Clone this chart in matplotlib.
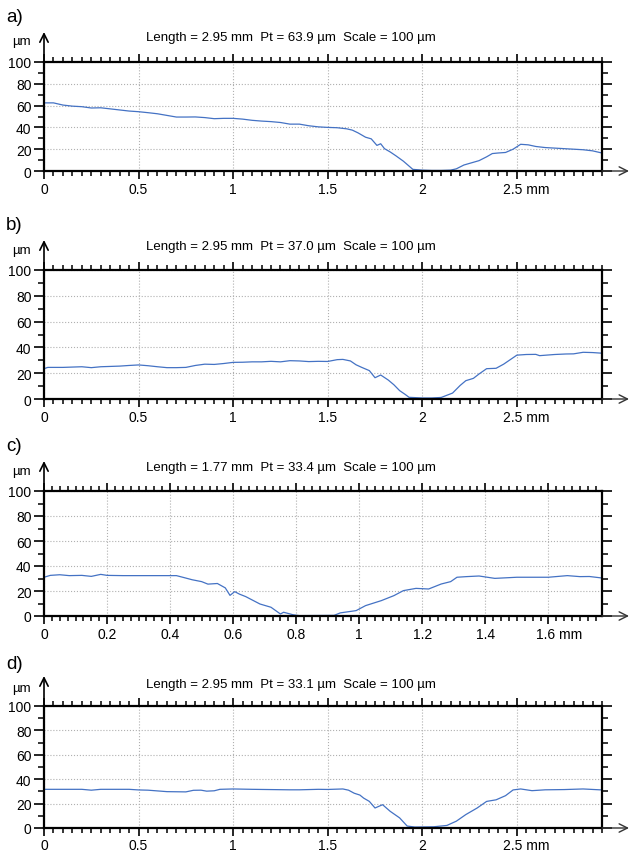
import matplotlib
matplotlib.use('Agg')
import matplotlib.pyplot as plt
from matplotlib.ticker import MultipleLocator
import matplotlib.transforms as mtransforms

plt.rcParams['font.family'] = ['Liberation Sans', 'DejaVu Sans']

# profile a)
xa = [0, 0.05, 0.1, 0.15, 0.2, 0.25, 0.3, 0.35, 0.4, 0.45, 0.5, 0.55, 0.6, 0.65, 0.7,
      0.75, 0.8, 0.85, 0.9, 0.95, 1.0, 1.05, 1.1, 1.15, 1.2, 1.25, 1.3, 1.35, 1.4, 1.45,
      1.5, 1.55, 1.6, 1.63, 1.66, 1.7, 1.73, 1.76, 1.78, 1.8, 1.83, 1.86, 1.9, 1.93, 1.95,
      2.0, 2.05, 2.1, 2.15, 2.18, 2.22, 2.26, 2.3, 2.34, 2.37, 2.4, 2.44, 2.48, 2.52, 2.56,
      2.6, 2.65, 2.7, 2.75, 2.8, 2.85, 2.9, 2.95]
ya = [62.5, 62.5, 60.5, 59.5, 59, 57.8, 58, 57, 56, 55, 54.4, 53.5, 52.5, 51, 49.5,
      49.5, 49.6, 49, 48, 48.3, 48.3, 47.6, 46.5, 45.8, 45.3, 44.5, 43, 43, 41.5, 40.5,
      40, 39.7, 38.7, 37.5, 35, 31, 29.5, 23.5, 25, 20.5, 17.5, 14, 9, 4.5, 1.5,
      0.8, 0.5, 0.5, 0.8, 2, 5.5, 7.5, 9.5, 13, 16, 16.5, 17, 20, 24.5, 24,
      22.5, 21.5, 21, 20.5, 20, 19.5, 18.5, 16.5]

# profile b)
xb = [0, 0.02, 0.1, 0.2, 0.25, 0.3, 0.4, 0.45, 0.5, 0.55, 0.6, 0.65, 0.7, 0.75, 0.8,
      0.85, 0.9, 0.95, 1.0, 1.05, 1.1, 1.15, 1.2, 1.25, 1.3, 1.35, 1.4, 1.45, 1.5, 1.55,
      1.58, 1.62, 1.65, 1.68, 1.72, 1.75, 1.78, 1.82, 1.85, 1.88, 1.91, 1.93, 2.0, 2.05,
      2.1, 2.16, 2.2, 2.23, 2.27, 2.3, 2.34, 2.39, 2.43, 2.47, 2.5, 2.55, 2.6, 2.62, 2.7,
      2.76, 2.8, 2.85, 2.9, 2.95]
yb = [23.5, 24.5, 24.5, 25, 24.3, 25, 25.5, 26, 26.4, 25.8, 25, 24.3, 24.3, 24.5, 26,
      27, 26.8, 27.5, 28.4, 28.5, 28.8, 28.8, 29.2, 28.8, 29.7, 29.5, 29, 29.2, 29.1, 30.5,
      30.7, 29.5, 26.5, 24.5, 22, 16.5, 18.6, 14.7, 11, 6.5, 3.5, 1.3, 0.8, 0.8,
      1.2, 4.6, 10.5, 14.2, 16, 19.4, 23.5, 23.8, 27, 31, 34, 34.5, 34.6, 33.6, 34.5,
      34.9, 35, 36.2, 36, 35.5]

# profile c)
xc = [0, 0.02, 0.05, 0.08, 0.12, 0.15, 0.18, 0.2, 0.25, 0.3, 0.35, 0.4, 0.42, 0.44,
      0.47, 0.5, 0.52, 0.55, 0.575, 0.59, 0.605, 0.62, 0.64, 0.685, 0.72, 0.75, 0.76,
      0.79, 0.81, 0.92, 0.94, 0.99, 1.02, 1.07, 1.11, 1.14, 1.18, 1.22, 1.26, 1.29, 1.31,
      1.34, 1.38, 1.43, 1.5, 1.55, 1.6, 1.66, 1.7, 1.73, 1.77]
yc = [31, 32.5, 33, 32.3, 32.5, 31.7, 33.3, 32.5, 32.3, 32.3, 32.3, 32.3, 32.3, 31,
      29, 27.5, 25.5, 26, 22.5, 16.5, 19.5, 17.5, 15.5, 9.6, 7, 1.6, 3,
      1, 0.3, 0.5, 2.5, 4.3, 8.3, 12.3, 16.3, 20.3, 22.1, 21.6, 25.6, 27.5, 31,
      31.5, 32, 30.1, 31, 31, 31, 32.3, 31.5, 31.6, 30.4]

# profile d)
xd = [0, 0.2, 0.25, 0.3, 0.45, 0.5, 0.55, 0.6, 0.65, 0.75, 0.79, 0.83, 0.86, 0.9, 0.93,
      1.0, 1.1, 1.2, 1.3, 1.35, 1.45, 1.5, 1.58, 1.61, 1.64, 1.67, 1.69, 1.72, 1.75, 1.79,
      1.83, 1.88, 1.92, 1.96, 2.06, 2.13, 2.18, 2.23, 2.29, 2.34, 2.39, 2.44, 2.48, 2.52,
      2.58, 2.65, 2.75, 2.85, 2.95]
yd = [31.7, 31.7, 31, 31.7, 31.7, 31.2, 31, 30.4, 29.8, 29.6, 30.9, 31, 30.2, 30.5, 31.7,
      32, 31.7, 31.5, 31.3, 31.3, 31.7, 31.6, 32, 31, 28.5, 27, 24.5, 21.8, 16.4, 19.1,
      13.7, 8.3, 1.6, 0.8, 1, 2.1, 5.6, 11, 16.4, 21.8, 23.1, 26.5, 31.2, 32,
      30.6, 31.3, 31.5, 32, 31.2]

titles = ['Length = 2.95 mm  Pt = 63.9 µm  Scale = 100 µm',
          'Length = 2.95 mm  Pt = 37.0 µm  Scale = 100 µm',
          'Length = 1.77 mm  Pt = 33.4 µm  Scale = 100 µm',
          'Length = 2.95 mm  Pt = 33.1 µm  Scale = 100 µm']
letters = ['a)', 'b)', 'c)', 'd)']
lengths = [2.95, 2.95, 1.77, 2.95]
ticks_long = [[0, 0.5, 1, 1.5, 2, 2.5]] * 2 + [[0, 0.2, 0.4, 0.6, 0.8, 1, 1.2, 1.4, 1.6]] + [[0, 0.5, 1, 1.5, 2, 2.5]]
tick_labels = [['0', '0.5', '1', '1.5', '2', '2.5 mm']] * 2 + \
              [['0', '0.2', '0.4', '0.6', '0.8', '1', '1.2', '1.4', '1.6 mm']] + \
              [['0', '0.5', '1', '1.5', '2', '2.5 mm']]
profiles = [(xa, ya), (xb, yb), (xc, yc), (xd, yd)]

W, H = 630, 854
fig = plt.figure(figsize=(W / 100, H / 100), dpi=100)

# axes boxes in image pixels: top, bottom
boxes = [(63, 172), (271, 400), (492, 617), (707, 829)]
letter_y = [17, 226, 447, 665]
title_y = [38, 247, 468, 685]
left, right = 44, 602
blue = '#4472c4'

for i in range(4):
    top, bot = boxes[i]
    ax = fig.add_axes([left / W, 1 - bot / H, (right - left) / W, (bot - top) / H])
    x, y = profiles[i]
    ax.plot(x, y, color=blue, lw=0.9)
    ax.set_xlim(0, lengths[i])
    ax.set_ylim(0, 100)

    ax.set_xticks(ticks_long[i])
    ax.set_xticklabels(tick_labels[i])
    ax.xaxis.set_minor_locator(MultipleLocator(0.05 if lengths[i] > 2 else 0.025))
    ax.set_yticks([0, 20, 40, 60, 80, 100])
    ax.yaxis.set_minor_locator(MultipleLocator(10))
    ax.grid(True, which='major', color='#b0b0b0', linestyle=':', lw=0.8)

    ax.tick_params(axis='both', which='major', direction='out', length=7, width=1.2,
                   labelsize=10, pad=2, colors='black')
    ax.tick_params(axis='x', which='both', top=True, bottom=True)
    ax.tick_params(axis='y', which='both', left=True, right=True)
    ax.tick_params(axis='x', which='minor', direction='out', length=3.5, width=1.1)
    ax.tick_params(axis='y', which='minor', direction='out', length=4, width=1.1)
    ax.tick_params(axis='x', which='major', top=True, length=6, pad=1 if i == 3 else 2)
    for sp in ax.spines.values():
        sp.set_linewidth(1.6)

    # put "mm" after the last number
    last = ax.get_xticklabels()[-1]
    last.set_horizontalalignment('left')
    shift = -10 / 72 if lengths[i] > 2 else -9 / 72
    last.set_transform(last.get_transform() +
                       mtransforms.ScaledTranslation(shift, 0, fig.dpi_scale_trans))

    # axis arrows
    ax.annotate('', xy=(left, H - top + 30), xytext=(left, H - top),
                xycoords='figure pixels', textcoords='figure pixels',
                arrowprops=dict(arrowstyle='->', lw=1.2, color='black',
                                mutation_scale=15, shrinkA=0, shrinkB=0))
    ax.annotate('', xy=(right + 27, H - bot), xytext=(right, H - bot),
                xycoords='figure pixels', textcoords='figure pixels',
                arrowprops=dict(arrowstyle='->', lw=1.0, color='#333333',
                                mutation_scale=15, shrinkA=0, shrinkB=0))

    fig.text(6 / W, 1 - letter_y[i] / H, letters[i], fontsize=13.5, va='center', ha='left')
    fig.text(291 / W, 1 - title_y[i] / H, titles[i], fontsize=9.5, va='center', ha='center')
    fig.text(12 / W, 1 - (title_y[i] + 4) / H, 'µm', fontsize=9.5, va='center', ha='left')

fig.savefig('out.png', dpi=100)
